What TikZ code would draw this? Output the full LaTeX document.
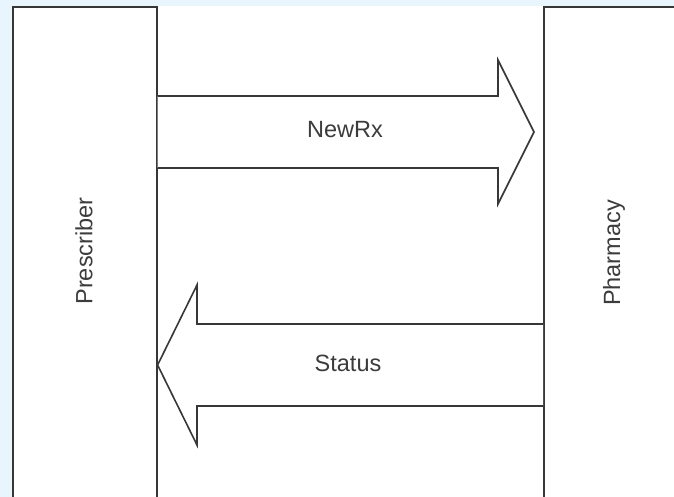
\documentclass[tikz,border=0pt]{standalone}
\usepackage{fontspec}
\setmainfont{Liberation Sans}
\usetikzlibrary{positioning}
\definecolor{linegray}{RGB}{55,55,55}
\definecolor{textgray}{RGB}{60,60,60}
\definecolor{bgblue}{RGB}{232,245,253}
\tikzstyle{party} = [draw=linegray, line width=1.6pt, rectangle, fill=white, minimum height=600pt, inner sep=0pt, anchor=north west]
\tikzstyle{label} = [font=\fontsize{23.5}{27}\selectfont, text=textgray, inner sep=0pt]
\tikzstyle{blockarrow} = [draw=linegray, line width=1.6pt, fill=white, line join=miter]

\begin{document}
\begin{tikzpicture}[x=1pt, y=-1pt]
    % Background.
    \fill [bgblue] (0,0) rectangle (674,497);
    \fill [white] (12,6) rectangle (674,497);
    \useasboundingbox (0,0) rectangle (674,497);
    \clip (0,0) rectangle (674,497);

    % Parties.
    \node (prescriber) [party, minimum width=144pt] at (12,6) {};
    \node (pharmacy) [party, minimum width=200pt] at (543,6) {};
    \node (prescriberlabel) [label, rotate=90] at (84,251) {Prescriber};
    \node (pharmacylabel) [label, rotate=90] at (614,253) {Pharmacy};

    % Messages.
    \draw [blockarrow] (prescriber.east |- 0,96) -- (498,96) -- (498,60) -- (534,132)
        -- (498,204) -- (498,168) -- (prescriber.east |- 0,168);
    \node (newrx) [label] at (345,130) {NewRx};

    \draw [blockarrow] (pharmacy.west |- 0,324) -- (197,324) -- (197,285) -- (prescriber.east |- 0,365)
        -- (197,445) -- (197,406) -- (pharmacy.west |- 0,406);
    \node (status) [label] at (348,363) {Status};
\end{tikzpicture}
\end{document}
